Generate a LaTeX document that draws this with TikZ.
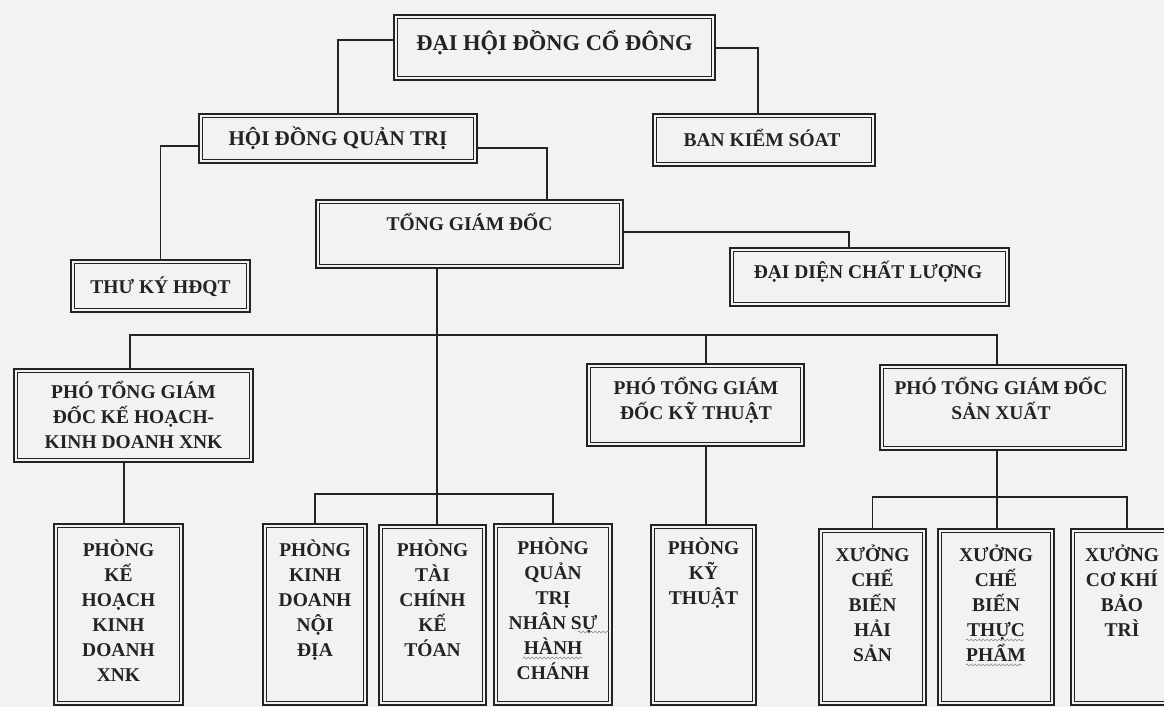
\documentclass[tikz,border=0pt]{standalone}
\usepackage{fontspec}
\setmainfont{Liberation Serif}
\usetikzlibrary{decorations.pathmorphing}
\begin{document}
\newcommand\mystrut{\rule{0pt}{22pt}}
\newcommand\mytallstrut{\rule{0pt}{24pt}}
\definecolor{bg}{RGB}{242,242,244}
\definecolor{ink}{RGB}{35,35,38}
\tikzset{
  frame/.style={draw=ink, line width=2.4pt, inner sep=0pt, outer sep=0pt},
  innerframe/.style={draw=ink, line width=0.8pt},
  conn/.style={draw=ink, line width=1.3pt},
  squiggle/.style={draw=ink!55, line width=0.6pt, decorate, decoration={snake, segment length=4pt, amplitude=1pt}},
  lbl/.style={inner sep=0pt, outer sep=0pt, align=center, text=ink, anchor=north,
    font=\bfseries\fontsize{#1}{25}\selectfont},
  lbl/.default=19.5
}
\newcommand\orgbox[5]{\node[frame, minimum width={(#4)-(#2)-2.4}, minimum height={(#5)-(#3)-2.4}] (#1) at ({((#2)+(#4))/2},{((#3)+(#5))/2}) {};}
\begin{tikzpicture}[x=1pt,y=-1pt]
\fill[bg] (0,0) rectangle (1164,707);
\useasboundingbox (0,0) rectangle (1164,707);
% boxes
\orgbox{dhdcd}{393}{14}{716}{81}
\orgbox{hdqt}{198}{113}{478}{164}
\orgbox{bks}{652}{113}{876}{167}
\orgbox{tgd}{315}{199}{624}{269}
\orgbox{tk}{70}{259}{251}{313}
\orgbox{ddcl}{729}{247}{1010}{307}
\orgbox{p1}{13}{368}{254}{463}
\orgbox{p2}{586}{363}{805}{447}
\orgbox{p3}{879}{364}{1127}{451}
\orgbox{b1}{53}{523}{184}{706}
\orgbox{b2}{262}{523}{368}{706}
\orgbox{b3}{378}{524}{487}{706}
\orgbox{b4}{493}{523}{613}{706}
\orgbox{b5}{650}{524}{757}{706}
\orgbox{b6}{818}{528}{927}{706}
\orgbox{b7}{937}{528}{1055}{706}
\orgbox{b8}{1070}{528}{1182}{706}
\foreach \n in {dhdcd,hdqt,bks,tgd,tk,ddcl,p1,p2,p3,b1,b2,b3,b4,b5,b6,b7,b8}
  \draw[innerframe] ([xshift=3.4pt,yshift=-3.4pt]\n.north west) rectangle ([xshift=-3.4pt,yshift=3.4pt]\n.south east);
% labels
\node[lbl=22.5] (l-dhdcd) at (554.5,26.4) {\mytallstrut ĐẠI HỘI ĐỒNG CỔ ĐÔNG};
\node[lbl=21] (l-hdqt) at (338,123) {\mystrut HỘI ĐỒNG QUẢN TRỊ};
\node[lbl] (l-bks) at (762,124.5) {\mystrut BAN KIỂM SÓAT};
\node[lbl] (l-tgd) at (469.5,208.5) {\mystrut TỔNG GIÁM ĐỐC};
\node[lbl] (l-tk) at (160.5,271.5) {\mystrut THƯ KÝ HĐQT};
\node[lbl] (l-ddcl) at (868,256.5) {\mystrut ĐẠI DIỆN CHẤT LƯỢNG};
\node[lbl] (l-p1) at (133.5,376.5) {\mystrut PHÓ TỔNG GIÁM\\ĐỐC KẾ HOẠCH-\\KINH DOANH XNK};
\node[lbl] (l-p2) at (696,372.5) {\mystrut PHÓ TỔNG GIÁM\\ĐỐC KỸ THUẬT};
\node[lbl] (l-p3) at (1001,372.5) {\mystrut PHÓ TỔNG GIÁM ĐỐC\\SẢN XUẤT};
\node[lbl] (l-b1) at (118.5,534.5) {\mystrut PHÒNG\\KẾ\\HOẠCH\\KINH\\DOANH\\XNK};
\node[lbl] (l-b2) at (315,534.5) {\mystrut PHÒNG\\KINH\\DOANH\\NỘI\\ĐỊA};
\node[lbl] (l-b3) at (432.5,534.5) {\mystrut PHÒNG\\TÀI\\CHÍNH\\KẾ\\TÓAN};
\node[lbl] (l-b4) at (553,532.5) {\mystrut PHÒNG\\QUẢN\\TRỊ\\NHÂN SỰ\\HÀNH\\CHÁNH};
\node[lbl] (l-b5) at (703.5,532.5) {\mystrut PHÒNG\\KỸ\\THUẬT};
\node[lbl] (l-b6) at (872.5,539.5) {\mystrut XƯỞNG\\CHẾ\\BIẾN\\HẢI\\SẢN};
\node[lbl] (l-b7) at (996,539.5) {\mystrut XƯỞNG\\CHẾ\\BIẾN\\THỰC\\PHẨM};
\node[lbl] (l-b8) at (1122,539.5) {\mystrut XƯỞNG\\CƠ KHÍ\\BẢO\\TRÌ};
% spell-check squiggles visible in the scan
\coordinate (sq1a) at (578,632); \coordinate (sq1b) at (609,632);
\coordinate (sq2a) at (523,658); \coordinate (sq2b) at (582,658);
\coordinate (sq3a) at (966,640); \coordinate (sq3b) at (1024,640);
\coordinate (sq4a) at (966,665); \coordinate (sq4b) at (1022,665);
\draw[squiggle] (sq1a) -- (sq1b);
\draw[squiggle] (sq2a) -- (sq2b);
\draw[squiggle] (sq3a) -- (sq3b);
\draw[squiggle] (sq4a) -- (sq4b);
% connectors
\coordinate (busy) at (0,335);
\coordinate (gy) at (0,494);
\coordinate (sy) at (0,497);
\draw[conn] ([yshift=7.5pt]dhdcd.west) -| (hdqt.north);
\draw[conn] ([yshift=-0.5pt]dhdcd.east) -| ([xshift=-6pt]bks.north);
\draw[conn] ([yshift=-7.5pt]hdqt.west) -| (tk.north);
\draw[conn] ([yshift=-9.5pt]hdqt.east) -| ([xshift=77.5pt]tgd.north);
\draw[conn] ([yshift=2pt]tgd.east) -| ([xshift=-20.5pt]ddcl.north);
\draw[conn] ([xshift=-3.5pt]p1.north) -- ([xshift=-3.5pt]p1.north |- busy) -- ([xshift=-6pt]p3.north |- busy) -- ([xshift=-6pt]p3.north);
\draw[conn] ([xshift=10.5pt]p2.north) -- ([xshift=10.5pt]p2.north |- busy);
\draw[conn] ([xshift=-32.5pt]tgd.south) -- ([xshift=-32.5pt]tgd.south |- b3.north);
\draw[conn] ([xshift=-9.5pt]p1.south) -- ([xshift=-9.5pt]p1.south |- b1.north);
\draw[conn] (b2.north) -- (b2.north |- gy) -- (b4.north |- gy) -- (b4.north);
\draw[conn] ([xshift=10.5pt]p2.south) -- ([xshift=10.5pt]p2.south |- b5.north);
\draw[conn] ([xshift=-6pt]p3.south) -- ([xshift=-6pt]p3.south |- b7.north);
\draw[conn] (b6.north) -- (b6.north |- sy) -- ([xshift=1pt]b8.north |- sy) -- ([xshift=1pt]b8.north);
\end{tikzpicture}
\end{document}
